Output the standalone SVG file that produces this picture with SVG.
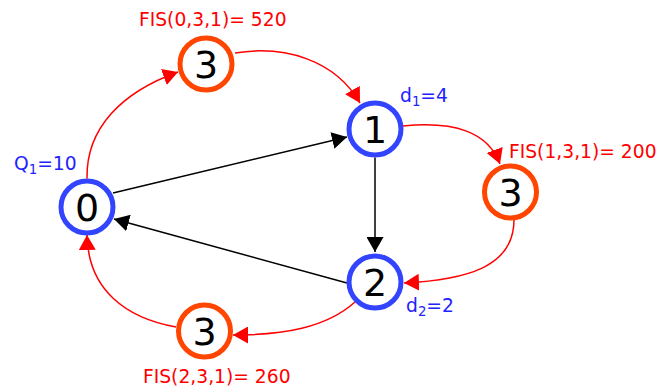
<svg xmlns="http://www.w3.org/2000/svg" width="659" height="390" viewBox="0 0 659 390">
<defs>
<style>
.n circle{fill:#fff;stroke-width:5}
.b circle{stroke:#3344ff}
.o circle{stroke:#ff4500}
.n text{font-family:"DejaVu Sans",sans-serif;font-size:38px;text-anchor:middle;fill:#000}
.e{fill:none;stroke-width:1.5}
.k{stroke:#000;marker-end:url(#ak)}
.r{stroke:#ff0000;marker-end:url(#ar)}
.lbl{font-family:"DejaVu Sans",sans-serif;font-size:18.7px}
.red{fill:#ff0000}
.blu{fill:#2222ff}
</style>
<marker id="ak" markerUnits="userSpaceOnUse" markerWidth="16" markerHeight="17" refX="15" refY="8.5" orient="auto" viewBox="0 0 16 17">
<path d="M0,0 L15,8.5 L0,17 z" fill="#000"/>
</marker>
<marker id="ar" markerUnits="userSpaceOnUse" markerWidth="16" markerHeight="17" refX="15" refY="8.5" orient="auto" viewBox="0 0 16 17">
<path d="M0,0 L15,8.5 L0,17 z" fill="#ff0000"/>
</marker>
</defs>
<rect width="659" height="390" fill="#fff"/>
<g id="edges">
<path class="e k" d="M113,193 L347,137"/>
<path class="e k" d="M347,283 L114,219"/>
<path class="e k" d="M375,157.5 L375,252"/>
<path class="e r" d="M87,178.5 C86,128 122,92 178,72"/>
<path class="e r" d="M235,53 C285,45 335,60 360,103"/>
<path class="e r" d="M403,126 C455,121 488,132 500,164"/>
<path class="e r" d="M514,220 C514,268 464,280 404,283"/>
<path class="e r" d="M355,302 C326,328 283,335 233,335"/>
<path class="e r" d="M176,327 C126,318 88,290 87,235"/>
</g>
<g id="node0" class="n b"><circle cx="87" cy="207" r="26"/><text x="87" y="221">0</text></g>
<g id="node1" class="n b"><circle cx="375" cy="129" r="26"/><text x="375" y="143">1</text></g>
<g id="node2" class="n b"><circle cx="375" cy="282" r="26"/><text x="375" y="296">2</text></g>
<g id="node3a" class="n o"><circle cx="206" cy="64" r="26"/><text x="206" y="78">3</text></g>
<g id="node3b" class="n o"><circle cx="510.5" cy="192" r="26"/><text x="510.5" y="206">3</text></g>
<g id="node3c" class="n o"><circle cx="204.5" cy="331" r="26"/><text x="204.5" y="345">3</text></g>
<g id="labels">
<text class="lbl red" x="139" y="26">FIS(0,3,1)= 520</text>
<text class="lbl red" x="509" y="158">FIS(1,3,1)= 200</text>
<text class="lbl red" x="143" y="383">FIS(2,3,1)= 260</text>
<text class="lbl blu" x="14" y="169.5">Q<tspan font-size="13.3px" dy="4">1</tspan><tspan dy="-4">=10</tspan></text>
<text class="lbl blu" x="400" y="102">d<tspan font-size="13.3px" dy="4">1</tspan><tspan dy="-4">=4</tspan></text>
<text class="lbl blu" x="406" y="312">d<tspan font-size="13.3px" dy="4">2</tspan><tspan dy="-4">=2</tspan></text>
</g>
</svg>
